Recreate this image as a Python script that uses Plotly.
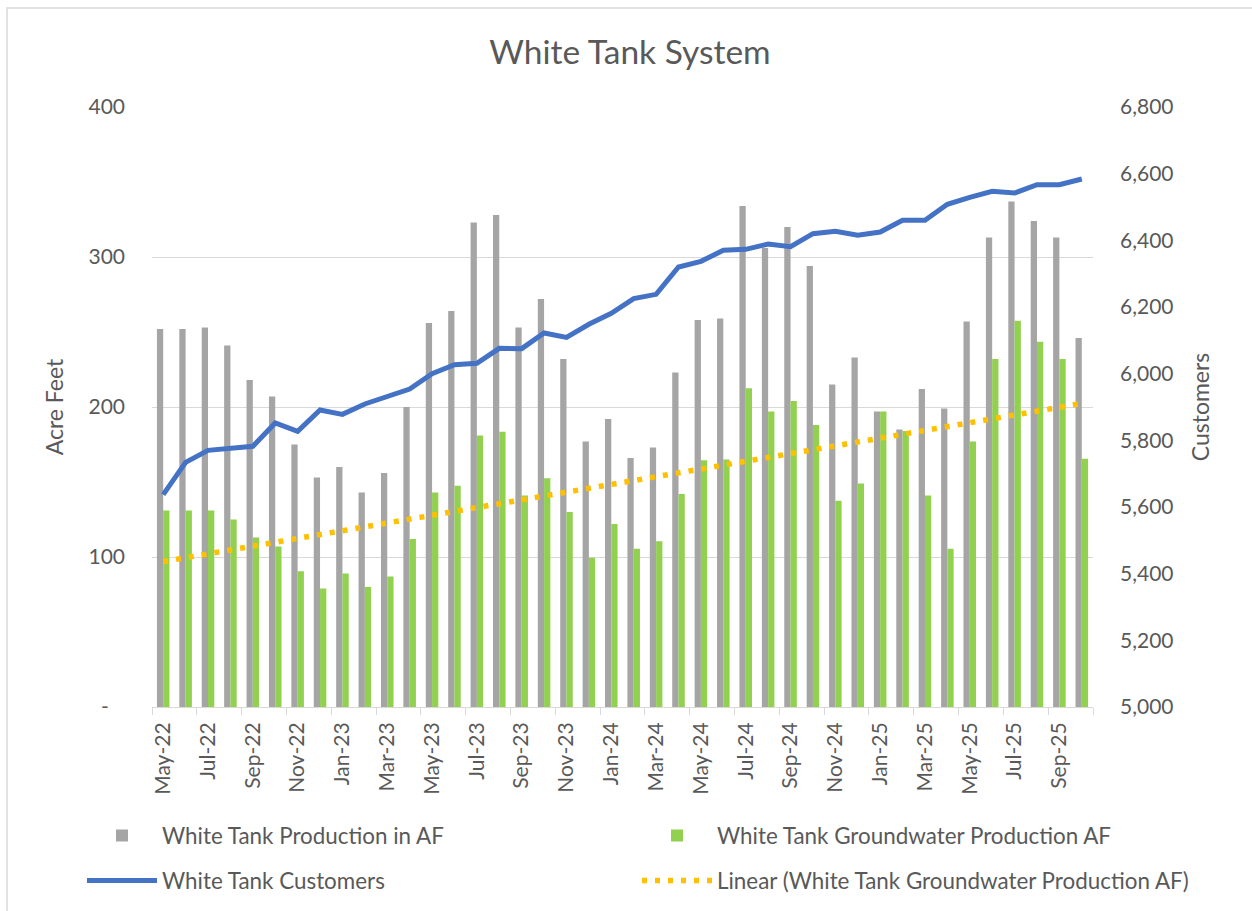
import numpy as np
import plotly.graph_objects as go

months = ["May-22", "Jun-22", "Jul-22", "Aug-22", "Sep-22", "Oct-22", "Nov-22", "Dec-22",
          "Jan-23", "Feb-23", "Mar-23", "Apr-23", "May-23", "Jun-23", "Jul-23", "Aug-23",
          "Sep-23", "Oct-23", "Nov-23", "Dec-23", "Jan-24", "Feb-24", "Mar-24", "Apr-24",
          "May-24", "Jun-24", "Jul-24", "Aug-24", "Sep-24", "Oct-24", "Nov-24", "Dec-24",
          "Jan-25", "Feb-25", "Mar-25", "Apr-25", "May-25", "Jun-25", "Jul-25", "Aug-25",
          "Sep-25", "Oct-25"]

production_af = [252, 252, 253, 241, 218, 207, 175, 153, 160, 143, 156, 200,
                 256, 264, 323, 328, 253, 272, 232, 177, 192, 166, 173, 223,
                 258, 259, 334, 306, 320, 294, 215, 233, 197, 185, 212, 199,
                 257, 313, 337, 324, 313, 246]

groundwater_af = [131, 131, 131, 125, 113, 107, 90.5, 79, 89, 80, 87, 112,
                  143, 147.5, 181, 183.5, 141, 152.5, 130, 99.5, 122, 105.5, 110.5, 142,
                  164.5, 165, 212.5, 197, 204, 188, 137.5, 149, 197, 184, 141, 105.5,
                  177, 232, 257.5, 243.5, 232, 165.5]

customers = [5637, 5734, 5770, 5776, 5782, 5852, 5827, 5891, 5878, 5909, 5930, 5954,
             6000, 6027, 6031, 6076, 6075, 6122, 6109, 6148, 6181, 6225, 6238, 6320,
             6337, 6370, 6373, 6389, 6381, 6420, 6427, 6415, 6425, 6460, 6460, 6508,
             6529, 6547, 6542, 6567, 6567, 6584]

left_tickvals = [0, 100, 200, 300, 400]
left_ticktext = ["-\u00a0\u00a0\u00a0", "100", "200", "300", "400"]

# Excel-style linear trendline of the groundwater series
idx = np.arange(len(groundwater_af))
slope, intercept = np.polyfit(idx, groundwater_af, 1)
trend = (slope * idx + intercept).tolist()

FONT = "Lato"
TXT = "#595959"
GRID = "#d9d9d9"

W, H = 1252, 911
L, R, T, B = 152, 159, 107, 204
PW, PH = W - L - R, H - T - B


def fx(px):
    return (px - L) / PW


def fy(py):
    return (H - B - py) / PH


def legend_at(px, py):
    return dict(orientation="h", xref="container", yref="container",
                x=px / W, xanchor="left", y=1 - py / H, yanchor="middle",
                itemwidth=70, font=dict(family=FONT, size=22.4, color=TXT),
                bgcolor="rgba(0,0,0,0)", itemclick=False, itemdoubleclick=False,
                visible=True)


fig = go.Figure()
fig.add_trace(go.Bar(x=months, y=production_af, name="White Tank Production in AF",
                     marker=dict(color="#A5A5A5", line=dict(width=0)), legend="legend",
                     showlegend=True))
fig.add_trace(go.Bar(x=months, y=groundwater_af, name="White Tank Groundwater Production AF",
                     marker=dict(color="#92D050", line=dict(width=0)), legend="legend2",
                     showlegend=True))
fig.add_trace(go.Scatter(x=months, y=trend, mode="lines",
                         name="Linear (White Tank Groundwater Production AF)",
                         line=dict(color="#FFC000", width=5.5, dash="5px,8px"),
                         legend="legend4", hoverinfo="skip", showlegend=True))
fig.add_trace(go.Scatter(x=months, y=customers, mode="lines", name="White Tank Customers",
                         line=dict(color="#4472C4", width=5), yaxis="y2",
                         legend="legend3", showlegend=True))

fig.update_layout(
    width=W, height=H,
    showlegend=True,
    margin=dict(l=L, r=R, t=T, b=B, autoexpand=False),
    paper_bgcolor="white", plot_bgcolor="white",
    font=dict(family=FONT, color=TXT, size=21),
    title=dict(text="White Tank System", x=fx(630), xref="paper", xanchor="center",
               y=1 - 52 / H, yref="container", yanchor="middle",
               font=dict(family=FONT, size=33.5, color=TXT)),
    barmode="group", bargap=0.44, bargroupgap=0,
    xaxis=dict(type="category", tickmode="linear", dtick=2, tick0=0,
               tickangle=-90, tickson="boundaries", ticks="outside", ticklen=7,
               ticklabelstandoff=6,
               tickcolor=GRID, showline=True, linecolor=GRID, linewidth=1,
               showgrid=False, tickfont=dict(family=FONT, size=21, color=TXT),
               range=[-0.5, len(months) - 0.5]),
    yaxis=dict(range=[0, 400], tickvals=left_tickvals, ticktext=left_ticktext,
               showgrid=True, gridcolor=GRID, gridwidth=1, zeroline=False,
               showline=False, ticks="", ticklabelstandoff=26,
               tickfont=dict(family=FONT, size=21, color=TXT),
               title=dict(text="Acre Feet", standoff=18,
                          font=dict(family=FONT, size=23, color=TXT))),
    yaxis2=dict(range=[5000, 6800], dtick=200, tick0=5000, tickformat=",",
                overlaying="y", side="right", showgrid=False, zeroline=False,
                showline=False, ticks="", ticklabelstandoff=26,
                tickfont=dict(family=FONT, size=21, color=TXT),
                title=dict(text="Customers", standoff=20,
                           font=dict(family=FONT, size=23, color=TXT))),
    legend=legend_at(82, 836),
    legend2=legend_at(637, 836),
    legend3=legend_at(82, 881),
    legend4=legend_at(637, 881),
    shapes=[dict(type="rect", xref="paper", yref="paper",
                 x0=fx(7), x1=fx(1262), y0=fy(921), y1=fy(8),
                 line=dict(color=GRID, width=1.5), fillcolor="rgba(0,0,0,0)",
                 layer="below")],
    hovermode="x unified",
)

fig.write_html("out.html")
